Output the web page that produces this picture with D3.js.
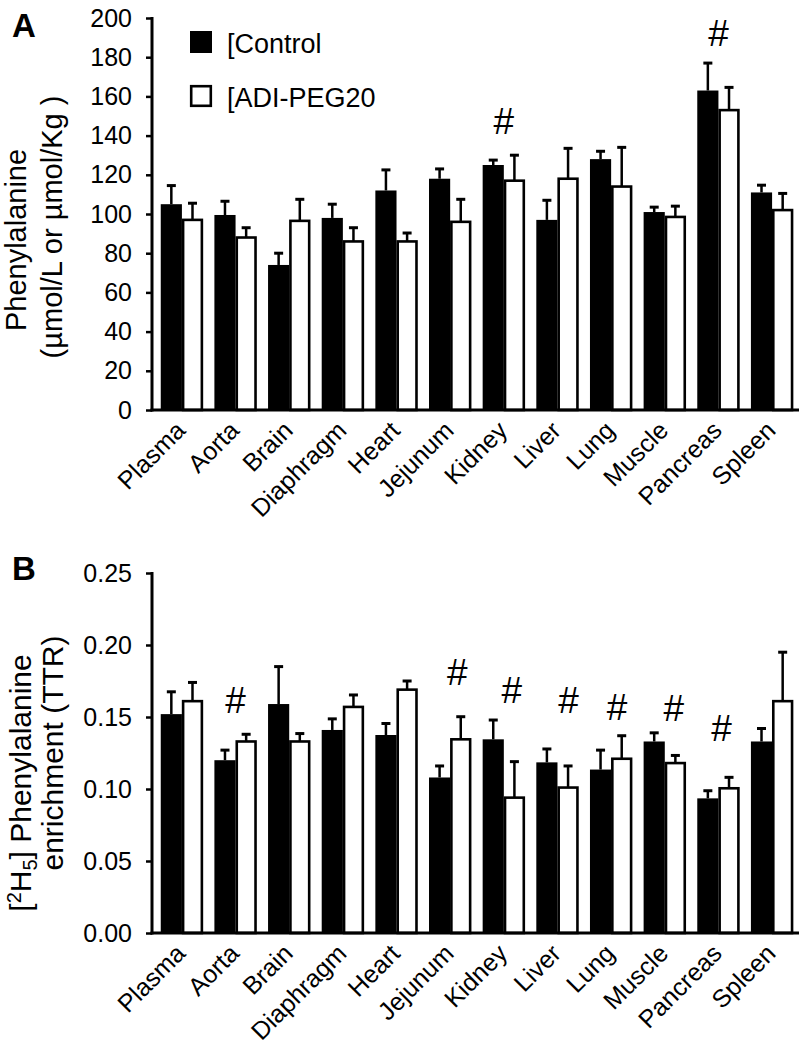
<!DOCTYPE html>
<html><head><meta charset="utf-8">
<script src="https://cdn.jsdelivr.net/npm/d3@7"></script>
<style>
html,body{margin:0;padding:0;background:#fff;}
svg{display:block;font-family:"Liberation Sans",Arial,sans-serif;}
</style></head>
<body>
<svg id="chart" width="799" height="1051"></svg>
<script>
// ---------- data ----------
const categories = ["Plasma","Aorta","Brain","Diaphragm","Heart","Jejunum","Kidney","Liver","Lung","Muscle","Pancreas","Spleen"];
const seriesNames = ["[Control", "[ADI-PEG20"];

const aControl    = [105, 99.5, 74, 98, 112, 118, 125, 97, 128, 101, 163, 111];
const aControlErr = [9.5, 7, 6, 7, 10.5, 5, 2.5, 10, 4, 2.5, 14, 3.7];
const aAdi        = [97, 88, 96.5, 86, 86, 96, 117, 118, 114, 98.5, 153, 102];
const aAdiErr     = [8.5, 5, 11, 7, 4.3, 11.5, 13, 15.5, 20, 5.5, 11.6, 8.5];
const aTicks      = [0, 20, 40, 60, 80, 100, 120, 140, 160, 180, 200];
const aSig        = [["Kidney", 147.6], ["Pancreas", 192.2]];

const bControl    = [0.152, 0.120, 0.159, 0.141, 0.1375, 0.108, 0.1345, 0.1185, 0.1135, 0.133, 0.0935, 0.133];
const bControlErr = [0.0155, 0.007, 0.026, 0.0077, 0.008, 0.008, 0.0134, 0.0093, 0.0135, 0.006, 0.0053, 0.009];
const bAdi        = [0.161, 0.133, 0.133, 0.157, 0.169, 0.1345, 0.094, 0.101, 0.121, 0.118, 0.1005, 0.161];
const bAdiErr     = [0.013, 0.005, 0.0055, 0.0083, 0.006, 0.0157, 0.025, 0.015, 0.016, 0.0053, 0.0076, 0.034];
const bTicks      = [0, 0.05, 0.10, 0.15, 0.20, 0.25];
const bSig        = [["Aorta", 0.1618], ["Jejunum", 0.1815], ["Kidney", 0.1688], ["Liver", 0.1618], ["Lung", 0.1572], ["Muscle", 0.156], ["Pancreas", 0.1422]];

// ---------- layout ----------
const svg = d3.select("#chart");
const LEFT = 152, RIGHT = 802;
const bSigDx = {Aorta:0, Jejunum:7, Kidney:8, Liver:11, Lung:6, Muscle:9, Pancreas:3};

const x = d3.scaleBand().domain(categories).range([LEFT, RIGHT]).paddingInner(0.211).paddingOuter(0.163);
const half = x.bandwidth() / 2;

function panel(cfg) {
  const g = svg.append("g");
  const y = d3.scaleLinear().domain(cfg.domain).range([cfg.bottom, cfg.top]);

  const rows = categories.map((c, i) => ({c, i, v0: cfg.ctrl[i], e0: cfg.ctrlErr[i], v1: cfg.adi[i], e1: cfg.adiErr[i]}));
  const grp = g.selectAll("g.cat").data(rows).join("g").attr("class", "cat");

  function errbar(sel, cx, v, e) {
    sel.append("line").attr("x1", cx).attr("x2", cx).attr("y1", y(v)).attr("y2", y(v + e))
      .attr("stroke", "#000").attr("stroke-width", 2.5);
    sel.append("line").attr("x1", cx - 4.5).attr("x2", cx + 4.5).attr("y1", y(v + e)).attr("y2", y(v + e))
      .attr("stroke", "#000").attr("stroke-width", 3);
  }
  grp.each(function(d) {
    const s = d3.select(this);
    const x0 = x(d.c);
    errbar(s, x0 + half / 2, d.v0, d.e0);
    errbar(s, x0 + half * 1.5, d.v1, d.e1);
    s.append("rect").attr("x", x0).attr("width", half).attr("y", y(d.v0)).attr("height", y(0) - y(d.v0))
      .attr("fill", "#000");
    s.append("rect").attr("x", x0 + half + 1.2).attr("width", half - 2.4).attr("y", y(d.v1))
      .attr("height", y(0) - y(d.v1)).attr("fill", "#fff").attr("stroke", "#000").attr("stroke-width", 2.6);
  });

  // y axis
  const ya = d3.axisLeft(y).tickValues(cfg.ticks).tickFormat(cfg.fmt).tickSize(6).tickPadding(14);
  const ag = g.append("g").attr("transform", `translate(${LEFT},0)`).call(ya);
  ag.select(".domain").remove();
  ag.selectAll(".tick line").attr("stroke", "#000").attr("stroke-width", 2.5);
  ag.selectAll(".tick text").attr("font-size", 25).attr("fill", "#000")
    .attr("font-family", "Liberation Sans, Arial, sans-serif");
  g.append("line").attr("x1", LEFT).attr("x2", LEFT).attr("y1", cfg.top - 1).attr("y2", cfg.bottom + 1.5)
    .attr("stroke", "#000").attr("stroke-width", 3);
  g.append("line").attr("x1", LEFT - 1.5).attr("x2", 799).attr("y1", cfg.bottom).attr("y2", cfg.bottom)
    .attr("stroke", "#000").attr("stroke-width", 3);

  // category labels
  g.selectAll("text.cl").data(categories).join("text").attr("class", "cl")
    .attr("transform", c => `translate(${x(c) + x.bandwidth() / 2 + 5},${cfg.bottom + 22}) rotate(-45)`)
    .attr("text-anchor", "end").attr("font-size", 25).attr("fill", "#000").text(c => c);

  // significance marks
  g.selectAll("text.sig").data(cfg.sig).join("text").attr("class", "sig")
    .attr("x", d => x(d[0]) + x.bandwidth() / 2 + (cfg.sigDx ? cfg.sigDx[d[0]] : 0))
    .attr("y", d => y(d[1]) + 13)
    .attr("text-anchor", "middle").attr("font-size", 37).attr("fill", "#000").text("#");

  // panel letter
  g.append("text").attr("x", 12).attr("y", cfg.letterY).attr("font-size", 33).attr("font-weight", "bold")
    .attr("fill", "#000").text(cfg.letter);
  return {g, y};
}

panel({domain: [0, 200], top: 18, bottom: 410, ctrl: aControl, ctrlErr: aControlErr, adi: aAdi, adiErr: aAdiErr,
  ticks: aTicks, fmt: d3.format("d"), sig: aSig, letter: "A", letterY: 37});
panel({domain: [0, 0.25], top: 573, bottom: 933, ctrl: bControl, ctrlErr: bControlErr, adi: bAdi, adiErr: bAdiErr,
  ticks: bTicks, fmt: d3.format(".2f"), sig: bSig, sigDx: bSigDx, letter: "B", letterY: 580});

// y-axis titles
function vtext(xp, yc, size) {
  return svg.append("text").attr("transform", `translate(${xp},${yc}) rotate(-90)`)
    .attr("text-anchor", "middle").attr("font-size", size).attr("fill", "#000");
}
vtext(26, 240, 29).text("Phenylalanine");
vtext(62, 227, 29).text("(µmol/L or µmol/Kg )");

const t1 = vtext(31, 783, 30);
t1.append("tspan").text("[");
t1.append("tspan").attr("font-size", 20).attr("dy", -10).text("2");
t1.append("tspan").attr("dy", 10).text("H");
t1.append("tspan").attr("font-size", 20).attr("dy", 6).text("5");
t1.append("tspan").attr("dy", -6).text("] Phenylalanine");
vtext(63, 753, 30).text("enrichment (TTR)");

// legend
const leg = svg.append("g");
seriesNames.forEach((s, i) => {
  const yy = 31 + i * 54;
  leg.append("rect").attr("x", 190 + (i ? 1.2 : 0)).attr("y", yy + (i ? 1.2 : 0))
    .attr("width", 22 - (i ? 2.4 : 0)).attr("height", 22 - (i ? 2.4 : 0))
    .attr("fill", i ? "#fff" : "#000").attr("stroke", "#000").attr("stroke-width", i ? 2.6 : 0);
  leg.append("text").attr("x", 227).attr("y", yy + 21.5).attr("font-size", 27).attr("fill", "#000").text(s);
});
</script>
</body></html>
